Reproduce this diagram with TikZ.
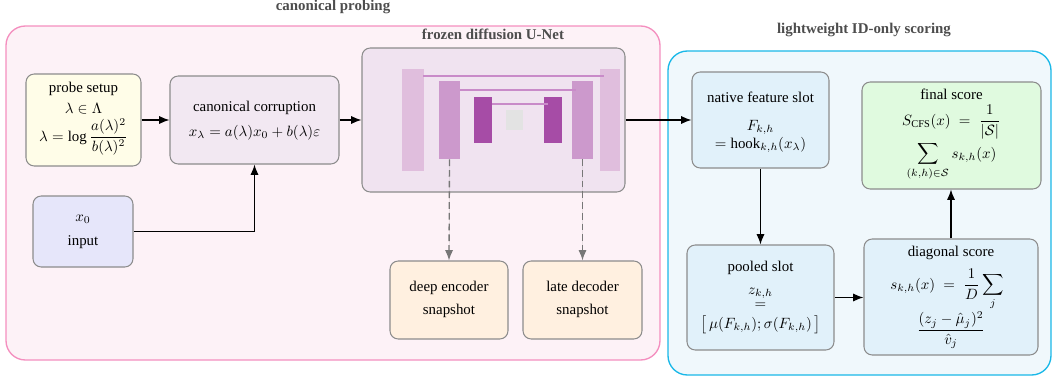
\documentclass[tikz,border=0pt]{standalone}
\usepackage{amsmath}
\usepackage{fontspec}
\setmainfont{Liberation Serif}
\usetikzlibrary{arrows.meta,fit}
\definecolor{pinkfill}{HTML}{FDF2F7}
\definecolor{pinkdraw}{HTML}{F48FBF}
\definecolor{bluefill}{HTML}{F0F8FC}
\definecolor{bluedraw}{HTML}{1AB8E8}
\definecolor{probefill}{HTML}{FFFDE8}
\definecolor{canonfill}{HTML}{F2E8F2}
\definecolor{inputfill}{HTML}{E6E6FA}
\definecolor{unetfill}{HTML}{F0E3F0}
\definecolor{snapfill}{HTML}{FFF0E0}
\definecolor{slotfill}{HTML}{E1F1FA}
\definecolor{finalfill}{HTML}{E0FADF}
\definecolor{barA}{HTML}{E0BEDD}
\definecolor{barB}{HTML}{CC99CC}
\definecolor{barC}{HTML}{A64CA6}
\definecolor{midgray}{HTML}{E3E3E3}
\definecolor{skipcol}{HTML}{C98BC9}
\definecolor{titlegray}{HTML}{4D4D4D}
\definecolor{boxdraw}{HTML}{8C8C8C}
\definecolor{dashgray}{HTML}{777777}
\tikzset{
  container/.style={rounded corners=13pt, line width=0.9pt, inner sep=0pt},
  box/.style={draw=boxdraw, line width=0.7pt, rounded corners=5.5pt, inner sep=0pt},
  ln/.style={anchor=base, inner sep=0pt},
  bar/.style={inner sep=0pt, draw=none},
  arr/.style={-{Latex[length=7pt,width=5.5pt]}, line width=0.8pt, black},
  dasharr/.style={-{Latex[length=7pt,width=5.5pt]}, line width=0.9pt, draw=dashgray, fill=dashgray, dash pattern=on 4.5pt off 2.7pt},
  skipline/.style={line width=0.8pt, draw=skipcol},
  title/.style={font=\bfseries, text=titlegray, anchor=base}
}
\begin{document}
\begin{tikzpicture}[x=0.671pt, y=-0.671pt]
\useasboundingbox (0,0) rectangle (1055,381);

% containers
\node[container, draw=pinkdraw, fill=pinkfill, fit={(6,26)(660,360)}] (probing) {};
\node[container, draw=bluedraw, fill=bluefill, fit={(668,51)(1051,375)}] (scoring) {};
\node[title] (t1) at (333,10.5) {canonical probing};
\node[title] (t2) at (864,33) {lightweight ID-only scoring};

% probe setup
\node[box, fill=probefill, fit={(26,74)(141,166)}] (probe) {};
\node[ln] (probe-1) at (83.5,92.5) {probe setup};
\node[ln] (probe-2) at (83.5,113.3) {$\lambda\in\Lambda$};
\node[ln] (probe-3) at (83.5,141) {$\lambda=\log\dfrac{a(\lambda)^2}{b(\lambda)^2}$};

% canonical corruption
\node[box, fill=canonfill, fit={(170,76)(339,164)}] (canon) {};
\node[ln] (canon-1) at (254.5,111) {canonical corruption};
\node[ln] (canon-2) at (254.5,136.7) {$x_\lambda=a(\lambda)x_0+b(\lambda)\varepsilon$};

% input
\node[box, fill=inputfill, fit={(33,196)(133,267)}] (input) {};
\node[ln] (input-1) at (83,221) {$x_0$};
\node[ln] (input-2) at (83,245.7) {input};

% U-Net
\node[box, fill=unetfill, fit={(362,48)(625,192)}] (unet) {};
\node[title] (t3) at (493,39) {frozen diffusion U-Net};
\node[bar, fill=barA, fit={(402,69)(424,171)}] (enc1) {};
\node[bar, fill=barB, fit={(439,81)(460,159)}] (enc2) {};
\node[bar, fill=barC, fit={(474,97)(492,143)}] (enc3) {};
\node[bar, fill=midgray, fit={(506,110)(523,130)}] (mid) {};
\node[bar, fill=barC, fit={(544,97)(562,143)}] (dec3) {};
\node[bar, fill=barB, fit={(572,81)(593,159)}] (dec2) {};
\node[bar, fill=barA, fit={(600,69)(620,171)}] (dec1) {};
\draw[skipline] (423,76) -- (604,76);
\draw[skipline] (460,90) -- (576,90);
\draw[skipline] (492,104) -- (548,104);

% snapshots
\node[box, fill=snapfill, fit={(390,261)(508,339)}] (deep) {};
\node[ln] (deep-1) at (449,291.7) {deep encoder};
\node[ln] (deep-2) at (449,314.3) {snapshot};
\node[box, fill=snapfill, fit={(523,261)(642,339)}] (late) {};
\node[ln] (late-1) at (582.5,291.7) {late decoder};
\node[ln] (late-2) at (582.5,314.3) {snapshot};

% native feature slot
\node[box, fill=slotfill, fit={(692,72)(829,168)}] (native) {};
\node[ln] (native-1) at (760.5,102) {native feature slot};
\node[ln] (native-2) at (760.5,130.3) {$F_{k,h}$};
\node[ln] (native-3) at (760.5,148) {$=\mathrm{hook}_{k,h}(x_\lambda)$};

% final score
\node[box, fill=finalfill, fit={(862,82)(1041,189)}] (final) {};
\node[ln] (final-1) at (951.5,99.3) {final score};
\node[ln] (final-2) at (951.5,125) {$S_{\mathrm{CFS}}(x)\;=\;\dfrac{1}{|\mathcal{S}|}$};
\node[ln] (final-3) at (951.5,158) {$\displaystyle\sum_{(k,h)\in\mathcal{S}} s_{k,h}(x)$};

% pooled slot
\node[box, fill=slotfill, fit={(687,245)(834,350)}] (pooled) {};
\node[ln] (pooled-1) at (760.5,271.7) {pooled slot};
\node[ln] (pooled-2) at (760.5,294.3) {$z_{k,h}$};
\node[ln] (pooled-3) at (760.5,308.7) {$=$};
\node[ln] (pooled-4) at (760.5,328.3) {$\bigl[\,\mu(F_{k,h});\sigma(F_{k,h})\,\bigr]$};

% diagonal score
\node[box, fill=slotfill, fit={(864,239)(1038,355)}] (diag) {};
\node[ln] (diag-1) at (951,256.3) {diagonal score};
\node[ln] (diag-2) at (947,289) {$s_{k,h}(x)\;=\;\dfrac{1}{D}\displaystyle\sum_j$};
\node[ln] (diag-3) at (951,334) {$\dfrac{(z_j-\hat\mu_j)^2}{\hat v_j}$};

% connectors
\draw[arr] (probe) -- (canon);
\draw[arr] (input.east) -| (canon.south);
\draw[arr] (canon) -- (unet);
\draw[arr] (unet) -- (native);
\draw[dasharr] (enc2.south) -- (deep.north);
\draw[dasharr] (dec2.south) -- (late.north);
\draw[arr] (native) -- (pooled);
\draw[arr] (pooled.east) -- (pooled.east -| diag.west);
\draw[arr] (diag.north) -- (diag.north |- final.south);
\end{tikzpicture}
\end{document}
